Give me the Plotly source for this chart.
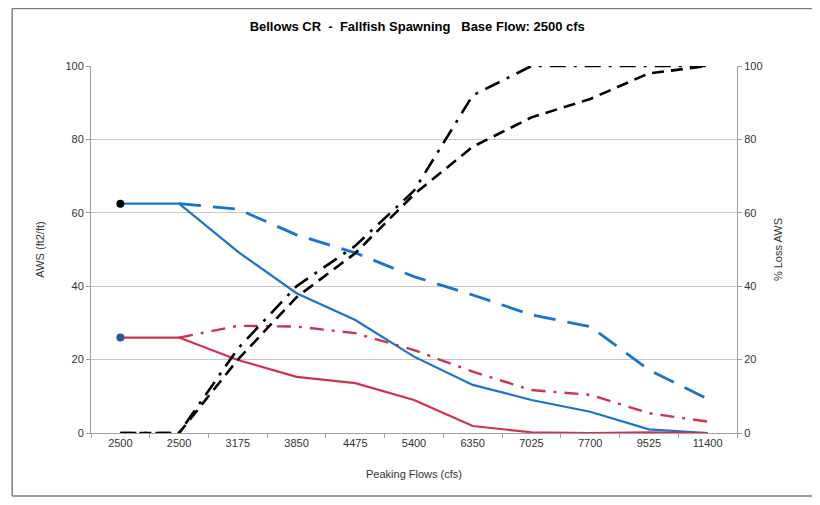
import plotly.graph_objects as go

# ========== DATA ==========
flows = ["2500", "2500", "3175", "3850", "4475", "5400", "6350", "7025", "7700", "9525", "11400"]
idx = list(range(len(flows)))

aws_adult = [62.5, 62.5, 49.4, 38.1, 30.8, 20.8, 13.1, 9.0, 5.8, 1.0, 0.0]
aws_adult_alt = [None, 62.5, 61.0, 54.0, 49.1, 42.6, 37.6, 32.2, 29.0, 17.2, 9.3]
aws_juv = [26.0, 26.0, 19.9, 15.3, 13.6, 9.0, 1.9, 0.2, 0.0, 0.2, 0.0]
aws_juv_alt = [None, 26.0, 29.2, 29.0, 27.2, 22.6, 16.7, 11.7, 10.4, 5.4, 3.1]
loss_a = [0, 0, 20, 37, 49, 65, 78, 86, 91, 98, 100]
loss_b = [0, 0, 23, 40, 51, 66, 92, 100, 100, 100, 100]

blue = "#1874cd"
red = "#cc3350"

fig = go.Figure()
fig.add_trace(go.Scatter(x=idx, y=aws_adult, mode="lines", line=dict(color=blue, width=2.2)))
fig.add_trace(go.Scatter(x=idx, y=aws_adult_alt, mode="lines",
                         line=dict(color=blue, width=2.8, dash="22px,12px")))
fig.add_trace(go.Scatter(x=idx, y=aws_juv, mode="lines", line=dict(color=red, width=2.2)))
fig.add_trace(go.Scatter(x=idx, y=aws_juv_alt, mode="lines",
                         line=dict(color=red, width=2.4, dash="14px,8px,3px,8px")))
fig.add_trace(go.Scatter(x=idx, y=loss_a, mode="lines", yaxis="y2",
                         line=dict(color="black", width=2.6, dash="12px,7px")))
fig.add_trace(go.Scatter(x=idx, y=loss_b, mode="lines", yaxis="y2",
                         line=dict(color="black", width=2.6, dash="16px,8px,3px,8px")))
# base flow points
fig.add_trace(go.Scatter(x=[0], y=[aws_adult[0]], mode="markers",
                         marker=dict(color="black", size=8)))
fig.add_trace(go.Scatter(x=[0], y=[aws_juv[0]], mode="markers",
                         marker=dict(color="#2f5597", size=8)))

axis_font = dict(family="Liberation Sans, Arial", size=11, color="#333333")

# page body has an 8px margin all round, so keep the figure inside the window
fig.update_layout(
    width=804, height=489,
    margin=dict(l=83, r=75, t=58, b=64),
    plot_bgcolor="white", paper_bgcolor="white",
    showlegend=False,
    title=dict(text="<b>Bellows CR  -  Fallfish Spawning   Base Flow: 2500 cfs</b>",
               x=0.509, xanchor="center", y=0.962, yanchor="middle",
               font=dict(family="Liberation Sans, Arial", size=13, color="black")),
    xaxis=dict(range=[-0.5, 10.5], tickvals=idx, ticktext=flows, ticks="",
               showgrid=False, zeroline=False, showline=True, linecolor="#a0a0a0",
               tickfont=axis_font,
               minor=dict(tickvals=[i - 0.5 for i in range(12)], ticks="outside",
                          ticklen=4, tickcolor="#a0a0a0", showgrid=False),
               title=dict(text="Peaking Flows (cfs)", font=axis_font, standoff=22)),
    yaxis=dict(range=[0, 100], dtick=20, showgrid=True, gridcolor="#c8c8c8",
               zeroline=False, showline=True, linecolor="#a0a0a0",
               ticks="outside", ticklen=4, tickcolor="#a0a0a0", tickfont=axis_font,
               title=dict(text="AWS (ft2/ft)", font=axis_font, standoff=18)),
    yaxis2=dict(range=[0, 100], dtick=20, overlaying="y", side="right", showgrid=False,
                zeroline=False, showline=True, linecolor="#a0a0a0",
                ticks="outside", ticklen=4, tickcolor="#a0a0a0", tickfont=axis_font,
                title=dict(text="% Loss AWS", font=axis_font, standoff=12)),
)

# chart frame: left, top and bottom edges (right edge lies outside the window)
frame = dict(color="#7f7f7f", width=1.5)
x_left, x_right, y_bot, y_top = -0.122, 1.3, -0.172, 1.157
fig.add_shape(type="line", xref="paper", yref="paper", x0=x_left, x1=x_left, y0=y_bot, y1=y_top, line=frame)
fig.add_shape(type="line", xref="paper", yref="paper", x0=x_left, x1=x_right, y0=y_top, y1=y_top, line=frame)
fig.add_shape(type="line", xref="paper", yref="paper", x0=x_left, x1=x_right, y0=y_bot, y1=y_bot, line=frame)

fig.write_html("out.html")
